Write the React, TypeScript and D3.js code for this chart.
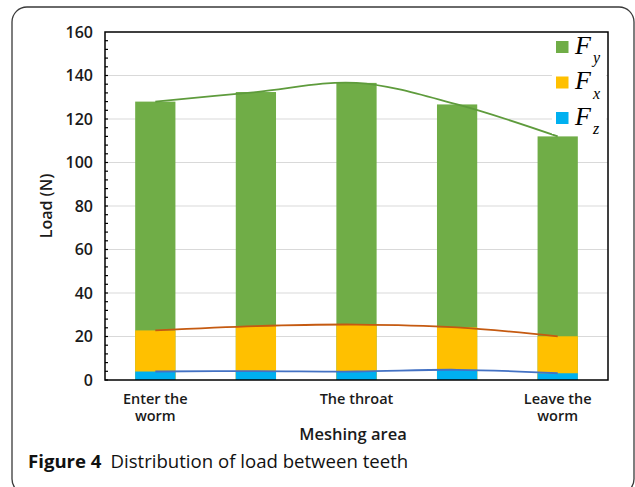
import React from "react";
import * as d3 from "d3";

// Meshing positions along the worm and the tooth load components (N)
const categories = ["Enter the worm", "p2", "The throat", "p4", "Leave the worm"];
const categoryLabels: string[][] = [["Enter the", "worm"], [], ["The throat"], [], ["Leave the", "worm"]];
const fy = [128, 132.4, 136.6, 126.7, 112];
const fx = [22.8, 24.8, 25.5, 24.2, 20.1];
const fz = [3.9, 4.1, 3.9, 4.7, 3.1];
const yTicks = [0, 20, 40, 60, 80, 100, 120, 140, 160];

const W = 635;
const H = 487;
const plot = { left: 105, right: 608, top: 32, bottom: 380 };

const series = [
  { key: "y", values: fy, fill: "#70AD47", line: "#5E9B3C" },
  { key: "x", values: fx, fill: "#FFC000", line: "#C55A11" },
  { key: "z", values: fz, fill: "#00B0F0", line: "#4472C4" },
];

export default function App() {
  const x = d3
    .scaleBand<string>()
    .domain(categories)
    .range([plot.left, plot.right])
    .paddingInner(0.6)
    .paddingOuter(0.3);
  const y = d3.scaleLinear().domain([0, 160]).range([plot.bottom, plot.top]);
  const minor = d3.range(0, 160, 4);
  const cx = (c: string) => (x(c) as number) + x.bandwidth() / 2;

  const line = d3
    .line<number>()
    .x((_, i) => cx(categories[i]))
    .y((v) => y(v))
    .curve(d3.curveCatmullRom.alpha(0.5));

  const font = "'Open Sans', 'Liberation Sans', sans-serif";
  const serif = "'Liberation Serif', 'Times New Roman', serif";

  return (
    <svg
      width={W}
      height={H}
      style={{ position: "absolute", left: 0, top: 0, background: "#fff" }}
    >
      {/* figure frame */}
      <rect
        x={12}
        y={7}
        width={622}
        height={487}
        rx={15}
        fill="none"
        stroke="#3a3a3a"
        strokeWidth={1.3}
      />

      {/* gridlines */}
      {yTicks
        .filter((t) => t > 0 && t < 160)
        .map((t) => (
          <line
            key={t}
            x1={plot.left}
            x2={plot.right}
            y1={y(t)}
            y2={y(t)}
            stroke="#d9d9d9"
            strokeWidth={1.2}
          />
        ))}

      {/* bars: each component drawn from zero, smaller ones in front */}
      {series.map((s) =>
        s.values.map((v, i) => (
          <rect
            key={s.key + i}
            x={x(categories[i])}
            y={y(v)}
            width={x.bandwidth()}
            height={y(0) - y(v)}
            fill={s.fill}
          />
        ))
      )}

      {/* smoothed trend lines */}
      {series.map((s) => (
        <path
          key={"l" + s.key}
          d={line(s.values) || ""}
          fill="none"
          stroke={s.line}
          strokeWidth={1.8}
        />
      ))}

      {/* legend */}
      <rect x={552} y={34} width={54} height={100} fill="#fff" />
      {series.map((s, i) => (
        <g key={"lg" + s.key} transform={`translate(556, ${41 + i * 35.5})`}>
          <rect width={12.5} height={12} fill={s.fill} />
          <text x={19} y={12.5} fontFamily={serif} fontStyle="italic" fontSize={26} fill="#000">
            F
          </text>
          <text x={37} y={22} fontFamily={serif} fontStyle="italic" fontSize={16} fill="#000">
            {s.key}
          </text>
        </g>
      ))}

      {/* plot frame */}
      <rect
        x={plot.left}
        y={plot.top}
        width={plot.right - plot.left}
        height={plot.bottom - plot.top}
        fill="none"
        stroke="#000"
        strokeWidth={1.5}
      />

      {/* minor ticks on the value axis */}
      {minor.map((t) => (
        <line
          key={"m" + t}
          x1={plot.left}
          x2={plot.left + 3}
          y1={y(t)}
          y2={y(t)}
          stroke="#000"
          strokeWidth={1.2}
        />
      ))}

      {/* y tick labels */}
      {yTicks.map((t) => (
        <text
          key={"yt" + t}
          x={93}
          y={y(t)}
          dy="0.36em"
          textAnchor="end"
          fontFamily={font}
          fontWeight={600}
          fontSize={16}
          fill="#1a1a1a"
        >
          {t}
        </text>
      ))}

      {/* x tick labels */}
      {categories.map((c, i) =>
        categoryLabels[i].map((ln, j) => (
          <text
            key={c + j}
            x={cx(c)}
            y={403.5 + j * 17.5}
            textAnchor="middle"
            fontFamily={font}
            fontWeight={600}
            fontSize={14.5}
            fill="#1a1a1a"
          >
            {ln}
          </text>
        ))
      )}

      {/* axis titles */}
      <text
        transform={`translate(52, ${(plot.top + plot.bottom) / 2}) rotate(-90)`}
        textAnchor="middle"
        fontFamily={font}
        fontWeight={600}
        fontSize={16}
        fill="#1a1a1a"
      >
        Load (N)
      </text>
      <text
        x={353}
        y={440}
        textAnchor="middle"
        fontFamily={font}
        fontWeight={600}
        fontSize={16.5}
        fill="#1a1a1a"
      >
        Meshing area
      </text>

      {/* caption */}
      <text x={28} y={468} fontFamily={font} fontSize={18.6} fill="#111">
        <tspan fontWeight={700}>Figure 4</tspan>
        <tspan dx={9}>Distribution of load between teeth</tspan>
      </text>
    </svg>
  );
}
